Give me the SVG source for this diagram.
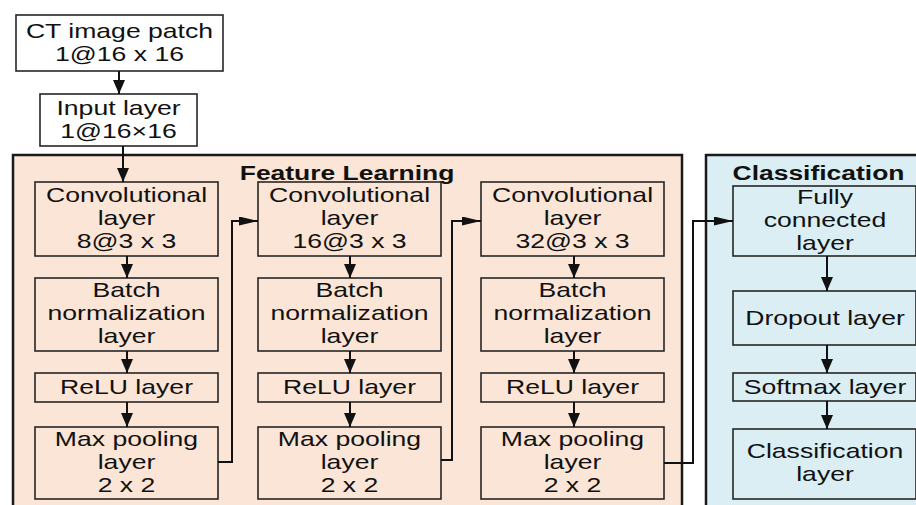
<svg xmlns="http://www.w3.org/2000/svg" width="916" height="505" viewBox="0 0 916 505">
  <style>
    .panel { stroke: #1a1a1a; stroke-width: 2.5; }
    .feat { fill: #fbe5d6; }
    .cls { fill: #dbeef4; }
    .box { stroke: #262626; stroke-width: 1.6; }
    .plain { fill: #ffffff; }
    .t { font-family: "Liberation Sans", Arial, sans-serif; font-size: 20px; fill: #111; text-anchor: middle; }
    .h { font-family: "Liberation Sans", Arial, sans-serif; font-size: 21px; font-weight: bold; fill: #111; text-anchor: middle; }
    .conn { fill: none; stroke: #111; stroke-width: 2; }
    .v { marker-end: url(#arrow-v); }
    .hz { marker-end: url(#arrow-h); }
  </style>
  <defs>
    <marker id="arrow-v" markerUnits="userSpaceOnUse" markerWidth="14" markerHeight="12" refX="14" refY="6" orient="auto">
      <path d="M0,0 L14,6 L0,12 z" fill="#111"/>
    </marker>
    <marker id="arrow-h" markerUnits="userSpaceOnUse" markerWidth="19" markerHeight="9" refX="19" refY="4.5" orient="auto">
      <path d="M0,0 L19,4.5 L0,9 z" fill="#111"/>
    </marker>
  </defs>

  <rect width="916" height="505" fill="#ffffff"/>

  <!-- panels -->
  <g id="panel-feature">
    <rect class="panel feat" x="13" y="155" width="669" height="370"/>
    <text class="h" transform="translate(347 179.5) scale(1.26 1)">Feature Learning</text>
  </g>
  <g id="panel-classification">
    <rect class="panel cls" x="706" y="155" width="230" height="370"/>
    <text class="h" transform="translate(818.5 179.5) scale(1.26 1)">Classification</text>
  </g>

  <!-- input -->
  <g id="ct-patch">
    <rect class="box plain" x="16" y="15" width="207" height="56"/>
    <text class="t" transform="translate(119.5 37.5) scale(1.33 1)">CT image patch</text>
    <text class="t" transform="translate(119.5 61) scale(1.33 1)">1@16 x 16</text>
  </g>
  <g id="input-layer">
    <rect class="box plain" x="40" y="94" width="157" height="52"/>
    <text class="t" transform="translate(118.5 115) scale(1.33 1)">Input layer</text>
    <text class="t" transform="translate(118.5 137.5) scale(1.33 1)">1@16×16</text>
  </g>

  <!-- feature learning, column 1 -->
  <g id="conv1">
    <rect class="box feat" x="35" y="182" width="183" height="74"/>
    <text class="t" transform="translate(126.5 202) scale(1.33 1)">Convolutional</text>
    <text class="t" transform="translate(126.5 225) scale(1.33 1)">layer</text>
    <text class="t" transform="translate(126.5 247.5) scale(1.33 1)">8@3 x 3</text>
  </g>
  <g id="bn1">
    <rect class="box feat" x="35" y="278" width="183" height="73"/>
    <text class="t" transform="translate(126.5 297) scale(1.33 1)">Batch</text>
    <text class="t" transform="translate(126.5 320) scale(1.33 1)">normalization</text>
    <text class="t" transform="translate(126.5 343) scale(1.33 1)">layer</text>
  </g>
  <g id="relu1">
    <rect class="box feat" x="35" y="373" width="183" height="29"/>
    <text class="t" transform="translate(126.5 394) scale(1.33 1)">ReLU layer</text>
  </g>
  <g id="pool1">
    <rect class="box feat" x="35" y="427" width="183" height="72"/>
    <text class="t" transform="translate(126.5 446) scale(1.33 1)">Max pooling</text>
    <text class="t" transform="translate(126.5 469) scale(1.33 1)">layer</text>
    <text class="t" transform="translate(126.5 492) scale(1.33 1)">2 x 2</text>
  </g>

  <!-- feature learning, column 2 -->
  <g id="conv2">
    <rect class="box feat" x="258" y="182" width="183" height="74"/>
    <text class="t" transform="translate(349.5 202) scale(1.33 1)">Convolutional</text>
    <text class="t" transform="translate(349.5 225) scale(1.33 1)">layer</text>
    <text class="t" transform="translate(349.5 247.5) scale(1.33 1)">16@3 x 3</text>
  </g>
  <g id="bn2">
    <rect class="box feat" x="258" y="278" width="183" height="73"/>
    <text class="t" transform="translate(349.5 297) scale(1.33 1)">Batch</text>
    <text class="t" transform="translate(349.5 320) scale(1.33 1)">normalization</text>
    <text class="t" transform="translate(349.5 343) scale(1.33 1)">layer</text>
  </g>
  <g id="relu2">
    <rect class="box feat" x="258" y="373" width="183" height="29"/>
    <text class="t" transform="translate(349.5 394) scale(1.33 1)">ReLU layer</text>
  </g>
  <g id="pool2">
    <rect class="box feat" x="258" y="427" width="183" height="72"/>
    <text class="t" transform="translate(349.5 446) scale(1.33 1)">Max pooling</text>
    <text class="t" transform="translate(349.5 469) scale(1.33 1)">layer</text>
    <text class="t" transform="translate(349.5 492) scale(1.33 1)">2 x 2</text>
  </g>

  <!-- feature learning, column 3 -->
  <g id="conv3">
    <rect class="box feat" x="481" y="182" width="183" height="74"/>
    <text class="t" transform="translate(572.5 202) scale(1.33 1)">Convolutional</text>
    <text class="t" transform="translate(572.5 225) scale(1.33 1)">layer</text>
    <text class="t" transform="translate(572.5 247.5) scale(1.33 1)">32@3 x 3</text>
  </g>
  <g id="bn3">
    <rect class="box feat" x="481" y="278" width="183" height="73"/>
    <text class="t" transform="translate(572.5 297) scale(1.33 1)">Batch</text>
    <text class="t" transform="translate(572.5 320) scale(1.33 1)">normalization</text>
    <text class="t" transform="translate(572.5 343) scale(1.33 1)">layer</text>
  </g>
  <g id="relu3">
    <rect class="box feat" x="481" y="373" width="183" height="29"/>
    <text class="t" transform="translate(572.5 394) scale(1.33 1)">ReLU layer</text>
  </g>
  <g id="pool3">
    <rect class="box feat" x="481" y="427" width="183" height="72"/>
    <text class="t" transform="translate(572.5 446) scale(1.33 1)">Max pooling</text>
    <text class="t" transform="translate(572.5 469) scale(1.33 1)">layer</text>
    <text class="t" transform="translate(572.5 492) scale(1.33 1)">2 x 2</text>
  </g>

  <!-- classification -->
  <g id="fc">
    <rect class="box cls" x="733" y="186" width="183" height="70"/>
    <text class="t" transform="translate(825 204) scale(1.33 1)">Fully</text>
    <text class="t" transform="translate(825 227) scale(1.33 1)">connected</text>
    <text class="t" transform="translate(825 250) scale(1.33 1)">layer</text>
  </g>
  <g id="dropout">
    <rect class="box cls" x="733" y="291" width="183" height="54"/>
    <text class="t" transform="translate(825 325) scale(1.33 1)">Dropout layer</text>
  </g>
  <g id="softmax">
    <rect class="box cls" x="733" y="373" width="183" height="28"/>
    <text class="t" transform="translate(825 394) scale(1.33 1)">Softmax layer</text>
  </g>
  <g id="classification-layer">
    <rect class="box cls" x="733" y="429" width="183" height="70"/>
    <text class="t" transform="translate(825 458) scale(1.33 1)">Classification</text>
    <text class="t" transform="translate(825 481) scale(1.33 1)">layer</text>
  </g>

  <!-- connectors -->
  <g id="connectors">
    <line class="conn v" x1="119" y1="71" x2="119" y2="94"/>
    <line class="conn v" x1="123" y1="146" x2="123" y2="182"/>

    <line class="conn v" x1="127" y1="256" x2="127" y2="278"/>
    <line class="conn v" x1="127" y1="351" x2="127" y2="373"/>
    <line class="conn v" x1="127" y1="402" x2="127" y2="427"/>

    <line class="conn v" x1="350" y1="256" x2="350" y2="278"/>
    <line class="conn v" x1="350" y1="351" x2="350" y2="373"/>
    <line class="conn v" x1="350" y1="402" x2="350" y2="427"/>

    <line class="conn v" x1="574" y1="256" x2="574" y2="278"/>
    <line class="conn v" x1="574" y1="351" x2="574" y2="373"/>
    <line class="conn v" x1="574" y1="402" x2="574" y2="427"/>

    <line class="conn v" x1="827" y1="256" x2="827" y2="291"/>
    <line class="conn v" x1="827" y1="345" x2="827" y2="373"/>
    <line class="conn v" x1="827" y1="401" x2="827" y2="429"/>

    <path class="conn hz" d="M218,462 H232 V221 H258"/>
    <path class="conn hz" d="M441,460 H452 V221 H481"/>
    <path class="conn hz" d="M664,463 H693 V221 H733"/>
  </g>
</svg>
